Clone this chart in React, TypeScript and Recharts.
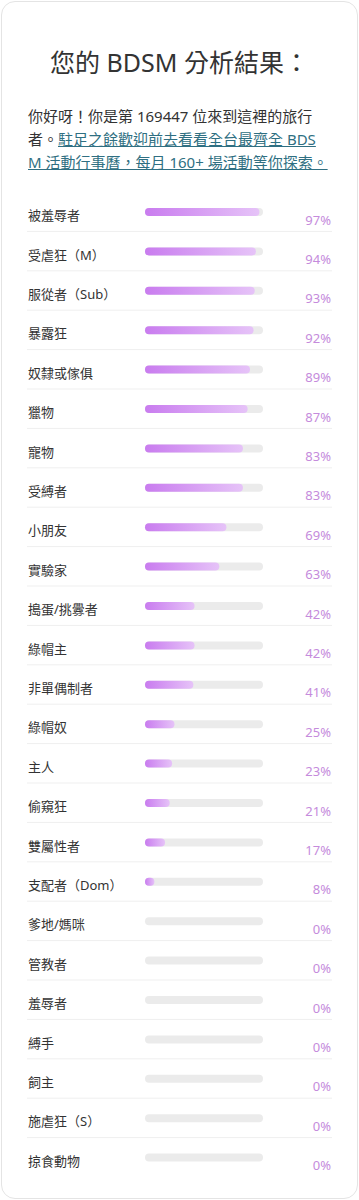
import { BarChart, Bar, XAxis, YAxis, LabelList } from "recharts"

const categories = [
  "被羞辱者",
  "受虐狂（M）",
  "服從者（Sub）",
  "暴露狂",
  "奴隸或傢俱",
  "獵物",
  "寵物",
  "受縛者",
  "小朋友",
  "實驗家",
  "搗蛋/挑釁者",
  "綠帽主",
  "非單偶制者",
  "綠帽奴",
  "主人",
  "偷窺狂",
  "雙屬性者",
  "支配者（Dom）",
  "爹地/媽咪",
  "管教者",
  "羞辱者",
  "縛手",
  "飼主",
  "施虐狂（S）",
  "掠食動物",
]

const scores = [97, 94, 93, 92, 89, 87, 83, 83, 69, 63, 42, 42, 41, 25, 23, 21, 17, 8, 0, 0, 0, 0, 0, 0, 0]

const font = '"Noto Sans", "Noto Sans CJK TC", sans-serif'

const data = categories.map((name, i) => ({ name, value: scores[i], track: 100 }))

const ROW = 39.4

function NameTick(props: any) {
  const { y, payload, index } = props
  const last = index === categories.length - 1
  return (
    <g>
      <text x={28} y={y + 4} dy="0.35em" fill="#333" fontSize={13} fontFamily={font}>
        {payload.value}
      </text>
      {!last && (
        <line x1={27} x2={332} y1={y + ROW / 2} y2={y + ROW / 2} stroke="#efefef" strokeWidth={1} />
      )}
    </g>
  )
}

function PercentLabel(props: any) {
  const { y, height, value } = props
  return (
    <text
      x={331}
      y={y + height / 2 + 8}
      dy="0.35em"
      textAnchor="end"
      fill="#c58bdc"
      fontSize={13}
      fontFamily={font}
    >
      {value}%
    </text>
  )
}

export default function App() {
  return (
    <div
      style={{
        position: "absolute",
        left: 0,
        top: 0,
        width: 359,
        height: 1200,
        background: "#fff",
        fontFamily: font,
      }}
    >
      <div
        style={{
          position: "absolute",
          left: 1,
          top: 1,
          width: 355,
          height: 1196,
          border: "1px solid #e4e4e4",
          borderRadius: 14,
        }}
      />
      <div
        style={{
          position: "absolute",
          left: 0,
          top: 44,
          width: 359,
          textAlign: "center",
          fontSize: 25,
          color: "#333",
          lineHeight: "36px",
        }}
      >
        您的 BDSM 分析結果：
      </div>
      <div
        style={{
          position: "absolute",
          left: 28,
          top: 105,
          width: 300,
          fontSize: 15,
          lineHeight: "23px",
          color: "#333",
          wordBreak: "break-all",
        }}
      >
        你好呀！你是第 169447 位來到這裡的旅行者。
        <span style={{ color: "#2f6f82", textDecoration: "underline" }}>
          駐足之餘歡迎前去看看全台最齊全 BDSM 活動行事曆，每月 160+ 場活動等你探索。
        </span>
      </div>
      <div style={{ position: "absolute", left: 0, top: 192 }}>
        <BarChart
          width={359}
          height={ROW * categories.length}
          data={data}
          layout="vertical"
          margin={{ top: 0, right: 96, bottom: 0, left: 0 }}
          barCategoryGap={0}
        >
          <defs>
            <linearGradient id="score-fill" x1="0" y1="0" x2="1" y2="0">
              <stop offset="0%" stopColor="#c97cef" />
              <stop offset="100%" stopColor="#e6c3f8" />
            </linearGradient>
          </defs>
          <XAxis type="number" domain={[0, 100]} hide />
          <YAxis
            type="category"
            dataKey="name"
            width={145}
            axisLine={false}
            tickLine={false}
            tick={<NameTick />}
            interval={0}
          />
          <YAxis yAxisId="track" type="category" dataKey="name" hide />
          <Bar
            yAxisId="track"
            dataKey="track"
            barSize={8}
            radius={4}
            fill="#ebebeb"
            isAnimationActive={false}
          >
            <LabelList dataKey="value" content={<PercentLabel />} />
          </Bar>
          <Bar
            dataKey="value"
            barSize={8}
            radius={4}
            fill="url(#score-fill)"
            isAnimationActive={false}
          />
        </BarChart>
      </div>
    </div>
  )
}
